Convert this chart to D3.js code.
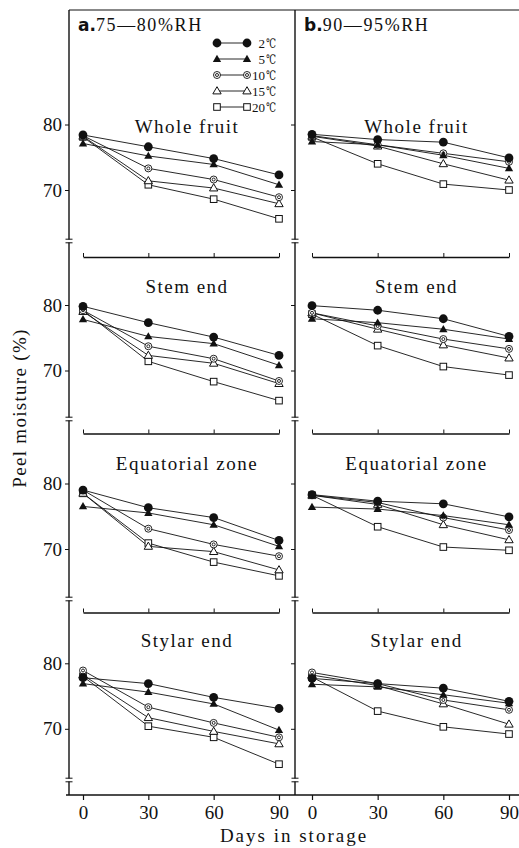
<!DOCTYPE html>
<html>
<head>
<meta charset="utf-8">
<script src="https://cdn.jsdelivr.net/npm/d3@7"></script>
<style>
  html, body { margin: 0; padding: 0; background: #fff; }
  svg { display: block; }
  .serif { font-family: "Liberation Serif", "DejaVu Serif", serif; fill: #111; }
  .tick text { font-family: "Liberation Serif", "DejaVu Serif", serif; font-size: 19px; fill: #111; }
</style>
</head>
<body>
<div id="wrapper"></div>
<script>
'use strict';

//#region DATASET
const days = [0, 30, 60, 90];
const temps = ['2', '5', '10', '15', '20'];
const tempUnit = '℃';
const parts = ['Whole fruit', 'Stem end', 'Equatorial zone', 'Stylar end'];
const rhLetters = ['a.', 'b.'];
const rhLabels = ['75—80%RH', '90—95%RH'];
const yTicks = [70, 80];

// rows: 2, 5, 10, 15, 20 ℃ ; columns: day 0, 30, 60, 90
const aWhole = [
  [78.4, 76.6, 74.8, 72.3],
  [77.1, 75.2, 73.9, 70.8],
  [78.3, 73.3, 71.6, 68.9],
  [78.2, 71.4, 70.3, 67.9],
  [78.1, 70.8, 68.6, 65.6]
];
const aStem = [
  [79.8, 77.3, 75.1, 72.3],
  [77.8, 75.2, 74.1, 70.8],
  [79.2, 73.7, 71.8, 68.4],
  [79.0, 72.3, 71.1, 68.0],
  [79.2, 71.4, 68.3, 65.4]
];
const aEquator = [
  [79.0, 76.3, 74.8, 71.3],
  [76.5, 75.5, 73.7, 70.4],
  [79.0, 73.1, 70.7, 68.9],
  [78.5, 70.4, 69.6, 66.8],
  [78.5, 70.9, 68.0, 65.9]
];
const aStylar = [
  [77.8, 76.9, 74.8, 73.1],
  [76.9, 75.6, 73.8, 69.8],
  [78.9, 73.3, 70.9, 68.7],
  [78.2, 71.7, 69.6, 67.7],
  [78.0, 70.4, 68.7, 64.6]
];
const bWhole = [
  [78.5, 77.7, 77.3, 74.9],
  [77.4, 76.9, 75.3, 73.3],
  [78.3, 76.9, 75.6, 74.3],
  [78.2, 76.7, 74.0, 71.5],
  [78.1, 74.0, 70.9, 70.0]
];
const bStem = [
  [79.9, 79.2, 77.9, 75.2],
  [77.9, 77.3, 76.3, 74.8],
  [78.8, 76.8, 74.8, 73.3],
  [78.8, 76.3, 73.9, 71.9],
  [78.6, 73.8, 70.6, 69.3]
];
const bEquator = [
  [78.3, 77.3, 76.9, 74.9],
  [76.4, 76.1, 75.1, 73.7],
  [78.2, 77.1, 74.8, 72.9],
  [78.2, 76.8, 73.7, 71.4],
  [78.2, 73.4, 70.3, 69.8]
];
const bStylar = [
  [77.7, 76.9, 76.2, 74.2],
  [76.8, 76.4, 75.2, 73.9],
  [78.6, 76.9, 74.4, 72.9],
  [78.2, 76.6, 73.8, 70.7],
  [77.9, 72.7, 70.3, 69.2]
];
const panelData = [
  [aWhole, aStem, aEquator, aStylar],
  [bWhole, bStem, bEquator, bStylar]
];
//#endregion DATASET

//#region CHART DIMENSIONS
const dimensions = {
  width: 519,
  height: 848,
  frameLeft: 69,
  frameMid: 295,
  frameRight: 519,
  frameTop: 10,
  xRanges: [[83, 279], [312, 509]],
  y80: [124.5, 305, 483.5, 663.3],     // pixel row of the 80 tick in each band
  axisY: [257, 433.5, 612.5, 795],     // x-axis line of each band
  breakY: [241, 419, 599, 780],
  titleY: [133, 293, 470, 647],
  unit: 6.55                           // px per 1 % moisture
};
//#endregion CHART DIMENSIONS

//#region DRAW CANVAS
const wrapper = d3.select('#wrapper').append('svg')
  .attr('width', dimensions.width)
  .attr('height', dimensions.height);
//#endregion DRAW CANVAS

//#region CREATE SCALES
const xScales = dimensions.xRanges.map(r => d3.scaleLinear().domain([0, 90]).range(r));
const yScales = dimensions.y80.map(y => d3.scaleLinear()
  .domain([70, 80])
  .range([y + 10 * dimensions.unit, y]));
//#endregion CREATE SCALES

//#region MARKERS
function drawMarker (g, i, x, y) {
  if (i === 0) {
    g.append('circle').attr('cx', x).attr('cy', y).attr('r', 4.4).attr('fill', '#111');
  } else if (i === 1) {
    g.append('path').attr('transform', `translate(${x},${y + 0.5})`)
      .attr('d', d3.symbol(d3.symbolTriangle, 30)()).attr('fill', '#111');
  } else if (i === 2) {
    g.append('circle').attr('cx', x).attr('cy', y).attr('r', 3.5)
      .attr('fill', '#fff').attr('stroke', '#111').attr('stroke-width', 0.9);
    g.append('circle').attr('cx', x).attr('cy', y).attr('r', 1.5)
      .attr('fill', '#fff').attr('stroke', '#111').attr('stroke-width', 0.9);
  } else if (i === 3) {
    g.append('path').attr('transform', `translate(${x},${y + 0.5})`)
      .attr('d', d3.symbol(d3.symbolTriangle, 30)())
      .attr('fill', '#fff').attr('stroke', '#111').attr('stroke-width', 1);
  } else {
    g.append('rect').attr('x', x - 3.3).attr('y', y - 3.3)
      .attr('width', 6.6).attr('height', 6.6)
      .attr('fill', '#fff').attr('stroke', '#111').attr('stroke-width', 1);
  }
}
//#endregion MARKERS

//#region DRAW FRAME
const frame = wrapper.append('g').attr('stroke', '#111').attr('fill', 'none');
frame.append('line')
  .attr('x1', dimensions.frameLeft).attr('x2', dimensions.frameRight)
  .attr('y1', dimensions.frameTop).attr('y2', dimensions.frameTop)
  .attr('stroke-width', 1);
frame.append('line')
  .attr('x1', dimensions.frameLeft - 3).attr('x2', dimensions.frameRight)
  .attr('y1', dimensions.axisY[3]).attr('y2', dimensions.axisY[3])
  .attr('stroke-width', 1.3);
[dimensions.frameLeft, dimensions.frameMid].forEach(x => {
  frame.append('line')
    .attr('x1', x).attr('x2', x)
    .attr('y1', dimensions.frameTop).attr('y2', dimensions.axisY[3])
    .attr('stroke-width', 1.4);
  // axis break marks
  dimensions.breakY.forEach(y => {
    frame.append('rect')
      .attr('x', x - 2).attr('y', y - 1.5).attr('width', 4).attr('height', 3)
      .attr('fill', '#fff').attr('stroke', 'none');
    [-1.8, 1.8].forEach(dy => frame.append('line')
      .attr('x1', x - 3.5).attr('x2', x + 3.5)
      .attr('y1', y + dy).attr('y2', y + dy)
      .attr('stroke-width', 1));
  });
});
//#endregion DRAW FRAME

//#region DRAW PANELS
const line = (xS, yS) => d3.line()
  .x((d, j) => xS(days[j]))
  .y(d => yS(d));

panelData.forEach((col, c) => {
  const xS = xScales[c];
  const axisX = c === 0 ? dimensions.frameLeft : dimensions.frameMid;

  col.forEach((rows, p) => {
    const yS = yScales[p];
    const panel = wrapper.append('g');

    // y ticks
    const yAxis = panel.append('g')
      .attr('transform', `translate(${axisX},0)`)
      .call(d3.axisLeft(yS).tickValues(yTicks).tickSize(4).tickPadding(3)
        .tickFormat(c === 0 ? d3.format('d') : () => ''));
    yAxis.select('.domain').remove();
    yAxis.selectAll('.tick line').attr('stroke', '#111');

    // x axis
    if (p < 3) {
      const xAxis = panel.append('g')
        .attr('transform', `translate(0,${dimensions.axisY[p]})`)
        .call(d3.axisTop(xS).tickValues(days).tickSize(4).tickSizeOuter(0).tickFormat(''));
      xAxis.select('.domain').attr('stroke', '#111').attr('stroke-width', 1.3);
      xAxis.selectAll('.tick line').attr('stroke', '#111');
    } else {
      const xAxis = panel.append('g')
        .attr('transform', `translate(0,${dimensions.axisY[p]})`)
        .call(d3.axisBottom(xS).tickValues(days).tickSize(5).tickPadding(6).tickFormat(d3.format('d')));
      xAxis.select('.domain').remove();
      xAxis.selectAll('.tick line').attr('stroke', '#111').attr('stroke-width', 1.2);
    }

    // band title
    panel.append('text')
      .attr('class', 'serif')
      .attr('x', xS(45) + 6)
      .attr('y', dimensions.titleY[p])
      .attr('text-anchor', 'middle')
      .style('font-size', '19px')
      .style('letter-spacing', '1.5px')
      .text(parts[p]);

    // series lines
    panel.append('g').selectAll('path').data(rows).join('path')
      .attr('d', line(xS, yS))
      .attr('fill', 'none')
      .attr('stroke', '#111')
      .attr('stroke-width', 0.9);

    // markers, coolest drawn last
    const marks = panel.append('g');
    d3.range(rows.length - 1, -1, -1).forEach(i => {
      rows[i].forEach((v, j) => drawMarker(marks, i, xS(days[j]), yS(v)));
    });
  });

  // RH heading
  const head = wrapper.append('text')
    .attr('x', axisX + 9)
    .attr('y', 31);
  head.append('tspan')
    .style('font-family', '"DejaVu Sans", sans-serif')
    .style('font-weight', 'bold')
    .style('font-size', '17px')
    .attr('fill', '#111')
    .text(rhLetters[c]);
  head.append('tspan')
    .attr('class', 'serif')
    .style('font-size', '18px')
    .style('letter-spacing', '1.6px')
    .text(rhLabels[c]);
});
//#endregion DRAW PANELS

//#region LEGEND
const legend = wrapper.append('g');
temps.forEach((t, i) => {
  const y = 43 + i * 16;
  legend.append('line')
    .attr('x1', 217).attr('x2', 247).attr('y1', y).attr('y2', y)
    .attr('stroke', '#111').attr('stroke-width', 0.9);
  drawMarker(legend, i, 217, y);
  drawMarker(legend, i, 247, y);
  legend.append('text')
    .attr('class', 'serif')
    .attr('x', 265)
    .attr('y', y + 5)
    .attr('text-anchor', 'end')
    .style('font-size', '13px')
    .text(t);
  legend.append('text')
    .attr('class', 'serif')
    .attr('x', 266)
    .attr('y', y + 5)
    .attr('textLength', 10)
    .attr('lengthAdjust', 'spacingAndGlyphs')
    .style('font-size', '13px')
    .text(tempUnit);
});
//#endregion LEGEND

//#region DRAW PERIPHERALS
wrapper.append('text')
  .attr('class', 'serif')
  .attr('transform', 'translate(26,408) rotate(-90)')
  .attr('text-anchor', 'middle')
  .style('font-size', '19px')
  .style('letter-spacing', '1.3px')
  .text('Peel moisture (%)');

wrapper.append('text')
  .attr('class', 'serif')
  .attr('x', 294)
  .attr('y', 842)
  .attr('text-anchor', 'middle')
  .style('font-size', '19px')
  .style('letter-spacing', '2px')
  .text('Days in storage');
//#endregion DRAW PERIPHERALS
</script>
</body>
</html>
